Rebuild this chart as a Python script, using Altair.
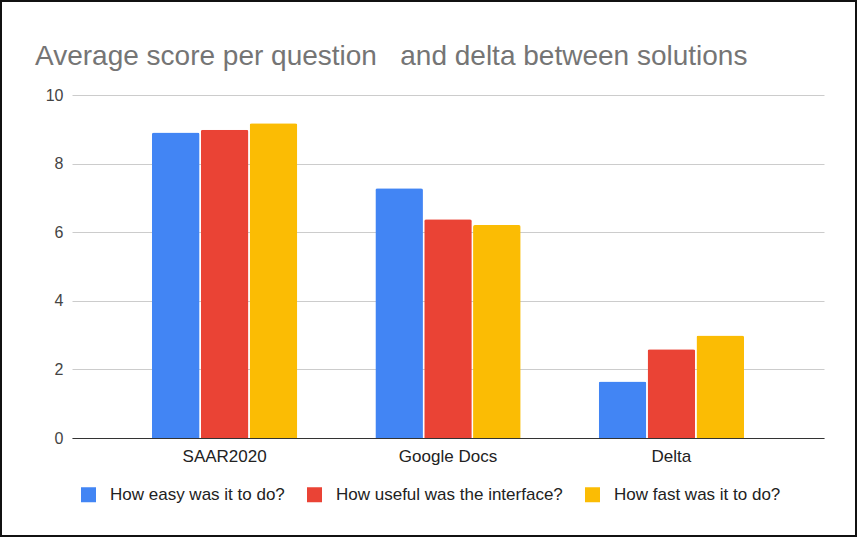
import altair as alt
import pandas as pd

categories = ["SAAR2020", "Google Docs", "Delta"]
series = ["How easy was it to do?", "How useful was the interface?", "How fast was it to do?"]
easy = [8.91, 7.28, 1.65]
useful = [8.99, 6.38, 2.59]
fast = [9.18, 6.21, 2.99]
colors = ["#4285F4", "#EA4335", "#FBBC04"]
y_ticks = [0, 2, 4, 6, 8, 10]
title_text = "Average score per question\u00a0\u00a0\u00a0and delta between solutions"

rows = []
for s, vals in zip(series, [easy, useful, fast]):
    for c, v in zip(categories, vals):
        rows.append({"category": c, "series": s, "value": v})
df = pd.DataFrame(rows)

FONT = "Liberation Sans"
W, H = 752, 343
PL, PT = 72, 95

bars = alt.Chart(df).mark_bar(cornerRadiusTopLeft=2, cornerRadiusTopRight=2).encode(
    x=alt.X("category:N", sort=categories,
            scale=alt.Scale(paddingInner=0.3496, paddingOuter=0.358),
            axis=alt.Axis(title=None, labelAngle=0, ticks=False, grid=False,
                          domainColor="#333333", domainWidth=1,
                          labelFontSize=17, labelColor="#222222", labelFont=FONT,
                          labelPadding=10)),
    xOffset=alt.XOffset("series:N", sort=series,
                        scale=alt.Scale(paddingInner=0.026, paddingOuter=0)),
    y=alt.Y("value:Q", scale=alt.Scale(domain=[0, 10], nice=False),
            axis=alt.Axis(title=None, values=y_ticks, ticks=False, domain=False,
                          gridColor="#cccccc", labelFontSize=16, labelColor="#444444",
                          labelFont=FONT, labelPadding=9)),
    color=alt.Color("series:N", sort=series,
                    scale=alt.Scale(domain=series, range=colors),
                    legend=alt.Legend(title=None, orient="none", direction="horizontal",
                                      legendX=8, legendY=391, padding=0,
                                      symbolType="square", symbolSize=225,
                                      symbolStrokeWidth=0, labelFontSize=17,
                                      labelFont=FONT, labelColor="#222222",
                                      labelLimit=0,
                                      labelOffset=13, columnPadding=21)),
)

frame = alt.Chart(pd.DataFrame({"k": [0]})).mark_rect(
    fillOpacity=0, stroke="#111111", strokeWidth=2
).encode(
    x=alt.value(-PL + 1), x2=alt.value(857 - PL - 1),
    y=alt.value(-PT + 1), y2=alt.value(536 - PT),
)

chart = alt.layer(bars, frame).properties(
    width=W, height=H,
    autosize=alt.AutoSizeParams(type="none"),
    padding={"left": PL, "top": PT, "right": 857 - PL - W, "bottom": 537 - PT - H},
    background="white",
    title=alt.TitleParams(title_text, anchor="start", frame="group", fontSize=28,
                          font=FONT, fontWeight="normal", color="#757575",
                          baseline="alphabetic", dx=-37, dy=93, offset=0),
).configure_view(stroke=None)

chart.save("out.html", embed_options={"renderer": "svg", "actions": False})
